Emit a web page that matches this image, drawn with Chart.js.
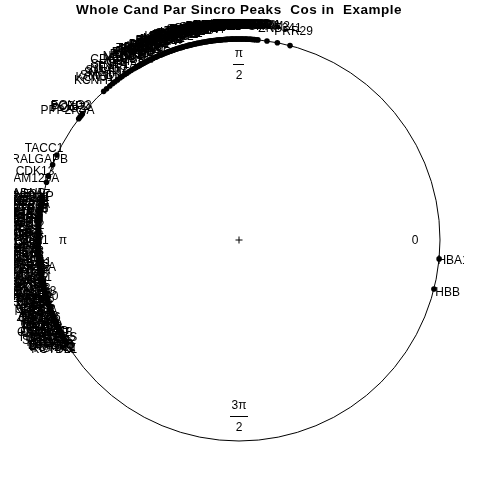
<!DOCTYPE html>
<html><head><meta charset="utf-8">
<script src="https://cdn.jsdelivr.net/npm/chart.js@4"></script>
<style>html,body{margin:0;padding:0;background:#fff}canvas{display:block}</style>
</head><body>
<canvas id="c" width="480" height="480"></canvas>
<script>
const chartTitle = "Whole Cand Par Sincro Peaks  Cos in  Example";

// ---- gene names and peak phases (degrees), per group ----
const topGenes = [
 "PRR29","ZNF341","SRRM2","ARID1A","MAP3K1","KMT2D","CHD7","NCOA6","SETD2","EP400",
 "BRD4","ZNF609","PHF3","TNRC6B","CREBBP","EP300","NSD1","ASXL2","BAZ2A","HUWE1",
 "ANKRD11","SON","PRRC2C","MACF1","DYNC1H1","AHNAK","PLEC","FLNA","MYH9","SPTAN1",
 "ATRX","CHD4","SMARCA4","POLR2A","ZC3H13","LARP1","PUM1","CNOT1","UBR4","HERC2",
 "NIPBL","SRCAP","KDM5C","TRRAP","ZFHX3","TCF20","RERE","NCOR1","NCOR2","MED13",
 "MED12","BPTF","CHD8","ARID2","PBRM1","KAT6A","KAT6B","DOT1L","JMJD1C","YLPM1",
 "SF3B1","PRPF8","EIF4G1","CLTC","TLN1","NEDD4L","NEDD9","CDC42BPA","OGT","QKI",
 "SETD1A","TNKS","NEAT1","SMAD7","SASH1","SMAD3","KCNJ11","KCNH1"
];
const topPhase = [
 75.3,79.0,82.0,84.6,85.2,85.9,86.5,87.0,87.6,88.1,
 88.9,89.4,90.0,90.6,91.1,91.8,92.3,92.9,93.4,94.0,
 94.7,95.2,95.8,96.3,96.9,97.6,98.1,98.7,99.2,99.9,
 100.5,101.0,101.7,102.2,102.8,103.4,104.0,104.5,105.1,105.8,
 106.3,106.9,107.5,108.0,108.7,109.2,109.9,110.4,111.0,111.6,
 112.3,112.8,113.4,114.1,114.6,115.3,115.9,116.5,117.2,117.8,
 118.4,119.0,119.7,120.3,121.0,121.6,122.4,123.1,123.9,124.6,
 125.5,126.3,127.2,128.1,129.0,130.0,131.2,132.3
];
const top2Genes = [
 "USP9X","USP34","USP24","VPS13D","BIRC6","HECTD4","RNF213","DST","SYNE1","SYNE2",
 "OBSCN","HMCN1","FAT1","FAT4","CSMD1","LRP1B","RYR2","MUC16","TTN","NEB",
 "DNAH5","DNAH11","APOB","PKHD1","ABCA13","CUBN","LAMA2","COL6A3","FBN1","VCAN",
 "THBS1","TNC","SPARC","POSTN","FN1","COL1A1","COL1A2","COL3A1","LUM","DCN",
 "IGF2BP2","IGF2R","INSR","IRS1","MTOR","RICTOR","RPTOR","TSC1","TSC2","NF1",
 "NF2","PTEN","RB1","TP53BP1","BRCA2","ATM","ATR","PRKDC","MDC1","RAD50"
];
const top2Phase = [
 85.6,86.2,86.8,87.3,87.9,88.5,89.1,89.7,90.3,90.9,
 91.5,92.0,92.6,93.2,93.7,94.3,95.0,95.5,96.1,96.6,
 97.2,97.9,98.4,99.0,99.5,100.2,100.8,101.4,102.0,102.5,
 103.1,103.7,104.2,104.8,105.4,106.0,106.6,107.2,107.8,108.4,
 109.0,109.6,110.1,110.7,111.3,112.0,112.6,113.1,113.8,114.4,
 115.0,115.6,116.2,116.9,117.5,118.1,118.7,119.4,120.0,120.7
];
const midGenes = ["FOXO3","PCBP2","POGZ","PPP2R3A","TACC1","RALGAPB","CDK13","FAM120A"];
const midPhase = [141.2,141.8,142.3,142.9,155.0,158.0,161.5,163.3];
const leftGenes = [
 "ADNP","ERBB2IP","NFAT5","AP2A1","RAB22A","TOB2","ZBTB20","ELF2","SP3","RORA",
 "PTPRJ","ATF7","MBNL2","TCF4","NR3C1","KLF7","PDE3B","RNF38","ZFP36L1","KLHL2",
 "CELF2","NFIA","SESN3","TXNIP","FNBP4","BCL6","PIK3R1","ARRDC3","IRS2","TET2",
 "FOXN3","ZNF148","CCNL1","SIK3","DDX3X","MXI1","KLF9","PRDM2","TSC22D3","SLC2A3",
 "BTG1","DUSP1","PER1","CITED2","YPEL3","FKBP5","SOCS2","NFKBIA","JUN","IER2",
 "ZBTB16","KLF15","PIM3","CEBPD","TOB1","RHOB","KLF13","GADD45B","HIPK2","CYLD",
 "MAF","SERTAD2","RCC2","ZFAND5","KCTD12","KCTD21"
];
const leftPhase = [
 167.6,168.4,169.0,169.7,170.5,171.1,171.9,172.6,173.2,174.0,
 174.7,175.3,176.1,176.8,177.4,178.2,178.9,179.5,180.2,181.0,
 181.6,182.3,183.1,183.7,184.4,185.0,185.8,186.5,187.1,187.8,
 188.4,189.1,189.9,190.5,191.2,191.8,192.5,193.1,193.8,194.4,
 195.0,195.7,196.3,196.9,197.6,198.2,198.8,199.4,200.1,200.7,
 201.3,201.9,202.5,203.1,203.8,204.4,205.0,205.6,206.2,206.8,
 207.4,208.0,208.7,209.3,210.0,210.8
];
const left2Genes = [
 "ZNF217","ZNF281","ZNF462","ZNF638","ZNF800","ZBTB38","ZBTB44","ZHX2","ZEB1","ZEB2",
 "SOX4","SOX9","HES1","ID2","ID3","ATF3","EGR1","FOS","FOSB","JUNB",
 "KLF6","KLF10","NR4A1","NR4A2","DDIT4","SGK1","TSC22D1","ERRFI1","PPP1R15A","CDKN1A",
 "MYC","MCL1","BCL2L11","BNIP3L","FOXO1","FOXP1","ETS2","ELK3","STAT3","SMAD6",
 "BHLHE40","NFIL3","DBP","TEF","HLF","CRY1","CRY2","PER2","PER3","ARNTL",
 "CLOCK","NPAS2","RORC","NR1D1","NR1D2","CIART","CSNK1D","CSNK1E","FBXL3","TIMELESS",
 "USP2","HSPA1A","HSPA1B","DNAJB1","HSPH1"
];
const left2Phase = [
 167.9,168.7,169.4,170.1,170.8,171.5,172.3,172.9,173.6,174.3,
 175.0,175.7,176.4,177.1,177.7,178.5,179.2,179.9,180.6,181.3,
 182.0,182.7,183.4,184.1,184.7,185.4,186.1,186.8,187.5,188.1,
 188.8,189.5,190.2,190.8,191.5,192.2,192.8,193.5,194.1,194.7,
 195.4,196.0,196.6,197.3,197.9,198.5,199.1,199.8,200.4,201.0,
 201.6,202.2,202.8,203.5,204.1,204.7,205.3,205.9,206.5,207.1,
 207.7,208.4,209.0,209.6,210.4
];
const rightGenes = ["HBA1","HBB"];
const rightPhase = [-5.4,-14.1];

// axis (phase) tick labels: [numerator, denominator]
const tickAngles = [0, 90, 180, 270];
const tickLabels = [["0",""],["\u03c0","2"],["\u03c0",""],["3\u03c0","2"]];

const geneNames = [].concat(topGenes, top2Genes, midGenes, leftGenes, left2Genes, rightGenes);
const phaseDeg  = [].concat(topPhase, top2Phase, midPhase, leftPhase, left2Phase, rightPhase);

const n = Math.min(geneNames.length, phaseDeg.length);
const pts = [];
for (let i = 0; i < n; i++) {
  const a = phaseDeg[i] * Math.PI / 180;
  pts.push({x: Math.cos(a), y: Math.sin(a), label: geneNames[i], a: a});
}

const R = 201;
const FONT = '"Liberation Sans", Arial, sans-serif';

const circlePlugin = {
  id: 'circ',
  beforeDatasetsDraw(chart) {
    const {ctx, scales:{x, y}} = chart;
    const cx = x.getPixelForValue(0), cy = y.getPixelForValue(0);
    const r = x.getPixelForValue(1) - cx;
    ctx.save();
    ctx.strokeStyle = '#000'; ctx.lineWidth = 1;
    ctx.beginPath(); ctx.arc(cx, cy, r, 0, Math.PI*2); ctx.stroke();
    ctx.beginPath();
    ctx.moveTo(cx-3.5, cy); ctx.lineTo(cx+3.5, cy);
    ctx.moveTo(cx, cy-3.5); ctx.lineTo(cx, cy+3.5);
    ctx.stroke();
    ctx.fillStyle = '#000';
    ctx.font = '12px ' + FONT;
    ctx.textAlign = 'center'; ctx.textBaseline = 'middle';
    tickAngles.forEach((d, i) => {
      const a = d*Math.PI/180;
      const px = x.getPixelForValue(0.876*Math.cos(a));
      const py = y.getPixelForValue(0.876*Math.sin(a));
      const [num, den] = tickLabels[i];
      if (!den) { ctx.fillText(num, px, py+1); }
      else {
        ctx.fillText(num, px, py-10);
        ctx.fillText(den, px, py+12);
        const w = ctx.measureText(num).width + 3;
        ctx.fillRect(Math.round(px - w/2), Math.round(py), Math.round(w), 1);
      }
    });
    ctx.restore();
  },
  afterDatasetsDraw(chart) {
    const {ctx, scales:{x, y}} = chart;
    ctx.save();
    const l = x.getPixelForValue(-1.12), rr = x.getPixelForValue(1.12);
    const t = y.getPixelForValue(1.12), b = y.getPixelForValue(-1.12);
    ctx.beginPath(); ctx.rect(l, t, rr-l, b-t); ctx.clip();
    ctx.fillStyle = '#000';
    ctx.font = '12px ' + FONT;
    ctx.textAlign = 'center'; ctx.textBaseline = 'middle';
    pts.forEach(p => {
      const px = x.getPixelForValue(1.07*Math.cos(p.a));
      const py = y.getPixelForValue(1.07*Math.sin(p.a));
      ctx.fillText(p.label, px, py);
    });
    ctx.restore();
    ctx.save();
    ctx.fillStyle = '#000';
    ctx.font = 'bold 13.5px ' + FONT;
    try { ctx.letterSpacing = '0.5px'; } catch(e) {}
    ctx.textAlign = 'center'; ctx.textBaseline = 'alphabetic';
    ctx.fillText(chartTitle, x.getPixelForValue(0), 13.5);
    ctx.restore();
  }
};

new Chart(document.getElementById('c'), {
  type: 'scatter',
  data: { datasets: [{
    data: pts,
    pointRadius: 2.8, pointHoverRadius: 2.8,
    backgroundColor: '#000', borderColor: '#000', borderWidth: 0,
    clip: false
  }]},
  options: {
    responsive: false, animation: false, devicePixelRatio: 1,
    layout: { padding: 0, autoPadding: false },
    plugins: { legend: {display:false}, tooltip: {enabled:false}, title: {display:false} },
    scales: {
      x: { type:'linear', display:false, min: -239/R, max: 241/R },
      y: { type:'linear', display:false, min: -240/R, max: 240/R }
    }
  },
  plugins: [circlePlugin]
});
</script>
</body></html>
